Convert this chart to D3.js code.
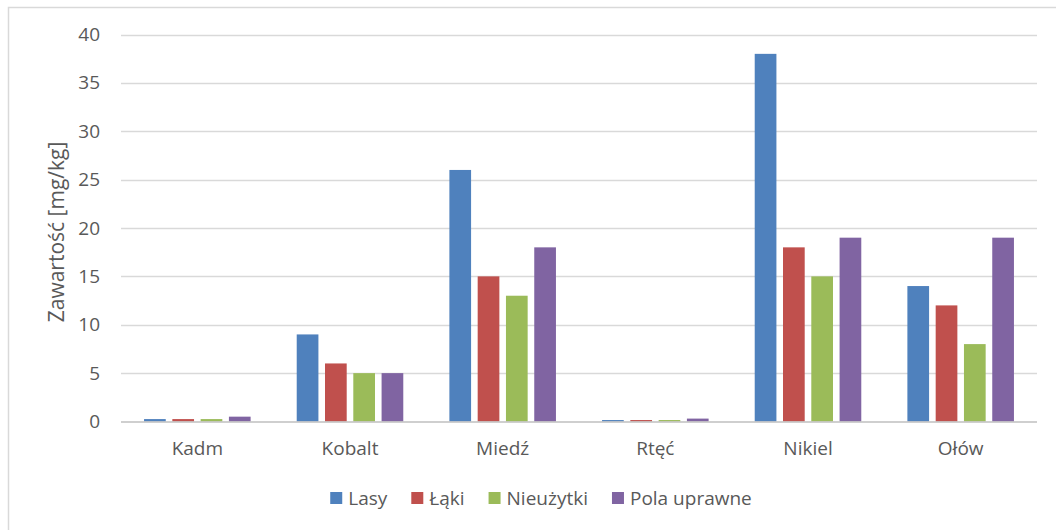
<!DOCTYPE html>
<html>
<head>
<meta charset="utf-8">
<script src="https://cdn.jsdelivr.net/npm/d3@7"></script>
<style>
  html, body { margin: 0; padding: 0; background: #fff; }
  svg { display: block; }
  text { font-family: "Open Sans", "Noto Sans", sans-serif; fill: #595959; }
</style>
</head>
<body>
<svg id="chart" width="1056" height="530"></svg>
<script>
const categories = ["Kadm", "Kobalt", "Miedź", "Rtęć", "Nikiel", "Ołów"];
const seriesNames = ["Lasy", "Łąki", "Nieużytki", "Pola uprawne"];
const lasy = [0.25, 9, 26, 0.15, 38, 14];
const laki = [0.25, 6, 15, 0.15, 18, 12];
const nieuzytki = [0.25, 5, 13, 0.15, 15, 8];
const polaUprawne = [0.5, 5, 18, 0.3, 19, 19];
const seriesValues = [lasy, laki, nieuzytki, polaUprawne];
const colors = ["#4F81BD", "#C0504D", "#9BBB59", "#8064A2"];
const yTicks = [0, 5, 10, 15, 20, 25, 30, 35, 40];
const yTitle = "Zawartość [mg/kg]";

const svg = d3.select("#chart");
const W = 1056, H = 530;
const plot = { left: 121, right: 1037, top: 34.5, bottom: 421.5 };

// outer chart border (left and top visible)
svg.append("rect")
  .attr("x", 8.5).attr("y", 7.5)
  .attr("width", W + 10).attr("height", H + 10)
  .attr("fill", "none").attr("stroke", "#d9d9d9").attr("stroke-width", 1.5);

const x0 = d3.scaleBand().domain(categories)
  .range([plot.left, plot.right]).paddingInner(0.302).paddingOuter(0.151);
const x1 = d3.scaleBand().domain(seriesNames)
  .range([0, x0.bandwidth()]).paddingInner(0.233).paddingOuter(0);
const y = d3.scaleLinear().domain([0, 40]).range([plot.bottom, plot.top]);

// gridlines
svg.append("g").selectAll("line").data(yTicks.filter(t => t !== 0)).join("line")
  .attr("x1", plot.left).attr("x2", plot.right)
  .attr("y1", d => Math.round(y(d)) + 0.5).attr("y2", d => Math.round(y(d)) + 0.5)
  .attr("stroke", "#d9d9d9").attr("stroke-width", 1.3);

// y axis labels
const yAxis = d3.axisLeft(y).tickValues(yTicks).tickSize(0).tickPadding(0);
const yg = svg.append("g").attr("transform", `translate(${plot.left - 21},0)`).call(yAxis);
yg.select(".domain").remove();
yg.selectAll("text").attr("font-size", 19).attr("fill", "#595959")
  .style("font-family", '"Open Sans", sans-serif');

// bars
const groups = svg.append("g").selectAll("g").data(categories).join("g")
  .attr("transform", d => `translate(${x0(d)},0)`);
groups.selectAll("rect")
  .data((c, i) => seriesNames.map((s, j) => ({ s, j, v: seriesValues[j][i] })))
  .join("rect")
  .attr("x", d => x1(d.s))
  .attr("width", x1.bandwidth())
  .attr("y", d => y(d.v))
  .attr("height", d => y(0) - y(d.v))
  .attr("fill", d => colors[d.j]);

// x axis
const xAxis = d3.axisBottom(x0).tickSize(0).tickPadding(0);
const xg = svg.append("g").attr("transform", `translate(0,${plot.bottom})`).call(xAxis);
xg.select(".domain").attr("stroke", "#bfbfbf").attr("stroke-width", 1.5)
  .attr("d", `M${plot.left},0.5H${plot.right}`);
xg.selectAll("text").attr("font-size", 19).attr("fill", "#595959")
  .attr("dy", "1.75em")
  .style("font-family", '"Open Sans", sans-serif');

// y title
svg.append("text")
  .attr("transform", `translate(64,${(plot.top + plot.bottom) / 2 + 4}) rotate(-90)`)
  .attr("text-anchor", "middle")
  .attr("font-size", 21)
  .text(yTitle);

// legend
const legend = svg.append("g");
const items = legend.selectAll("g").data(seriesNames).join("g");
items.append("rect").attr("width", 12).attr("height", 12).attr("y", -6)
  .attr("fill", (d, i) => colors[i]);
items.append("text").attr("x", 18).attr("dy", "0.35em").attr("font-size", 19).text(d => d);
let cx = 0;
items.each(function () {
  const w = this.querySelector("text").getComputedTextLength() + 18;
  d3.select(this).attr("transform", `translate(${cx},498)`);
  cx += w + 24;
});
const totalW = cx - 24;
legend.attr("transform", `translate(${541 - totalW / 2},0)`);
</script>
</body>
</html>
